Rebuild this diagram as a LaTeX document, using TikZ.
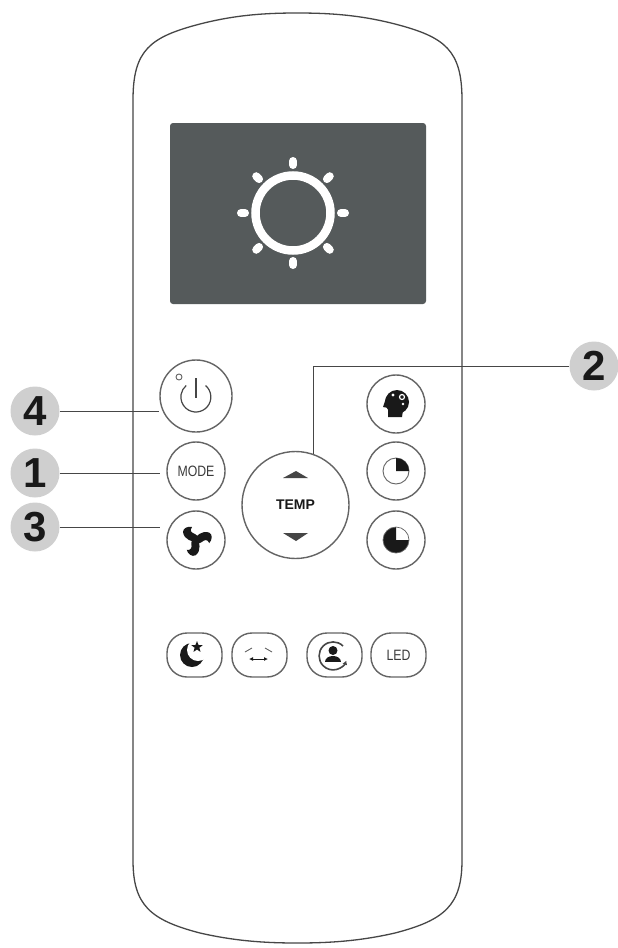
\documentclass[tikz,border=0pt]{standalone}
\usepackage{fontspec}
\usepackage{tikz}
\usetikzlibrary{shapes.geometric,arrows.meta}
\setmainfont{Liberation Sans}
\newfontfamily\narrowfont[FakeStretch=0.82]{Liberation Sans}
\definecolor{bodyline}{RGB}{70, 70, 70}
\definecolor{ringline}{RGB}{100, 100, 100}
\definecolor{screengray}{RGB}{85, 90, 91}
\definecolor{numgray}{RGB}{207, 207, 207}
\definecolor{icondark}{RGB}{25, 25, 25}
\tikzset{
    roundbtn/.style={circle, draw=ringline, line width=1.4pt, inner sep=0pt, fill=white},
    pillbtn/.style={rectangle, draw=ringline, line width=1.4pt, rounded corners=20pt, minimum width=55pt, minimum height=44pt, inner sep=0pt},
    numdot/.style={circle, fill=numgray, minimum size=49pt, inner sep=0pt, text=icondark, font=\fontsize{42}{42}\selectfont\bfseries},
    leader/.style={draw=bodyline, line width=1pt},
    narrowlabel/.style={text=icondark!85, font=\fontsize{15}{15}\selectfont\narrowfont}
}

\begin{document}
\begin{tikzpicture}[x=1pt, y=-1pt]
    \useasboundingbox (0,0) rectangle (618,948);
    \fill[white] (0,0) rectangle (618,948);

    % Remote body
    \draw[bodyline, line width=1.3pt] (133,100) .. controls (133,50) and (150,37) .. (200,24)
        .. controls (235,15) and (265,13) .. (297,13)
        .. controls (330,13) and (360,15) .. (395,24)
        .. controls (445,37) and (462,50) .. (462,100)
        -- (462,860) .. controls (462,905) and (445,920) .. (395,933)
        .. controls (360,941) and (330,943) .. (297,943)
        .. controls (265,943) and (235,941) .. (200,933)
        .. controls (150,920) and (133,905) .. (133,860) -- cycle;

    % Screen with sun
    \fill[screengray, rounded corners=3pt] (170,123) rectangle (426,304);
    \draw[white, line width=8.5pt] (293,213) circle (37.5pt);
    \foreach \ang in {0,45,...,315}
        \draw[white, line width=8pt, line cap=round, rotate around={\ang:(293,213)}] (293,161) -- (293,165);

    % Round buttons
    \node[roundbtn, minimum size=72pt] (power) at (196,396) {};
    \node[roundbtn, minimum size=58pt, narrowlabel] (mode) at (196,471) {MODE};
    \node[roundbtn, minimum size=58pt] (fan) at (196,540) {};
    \node[roundbtn, minimum size=107pt, text=icondark, font=\fontsize{14}{14}\selectfont\bfseries] (temp) at (295.5,505) {TEMP};
    \node[roundbtn, minimum size=58pt] (brain) at (396,404) {};
    \node[roundbtn, minimum size=58pt] (quarter) at (396,471) {};
    \node[roundbtn, minimum size=58pt] (threeq) at (396,540) {};

    % Power icon
    \draw[bodyline, line width=1.2pt] (205.5,385.5) arc (50:-230:15pt);
    \draw[bodyline, line width=1.2pt] (196,378) -- (196,398);
    \draw[ringline, line width=0.9pt] (179,377) circle (3pt);

    % Fan icon
    \foreach \ang in {0,120,240}
        \fill[icondark, shift={(196,540)}, rotate=\ang] (1,2) .. controls (-3,2) and (-12,0) .. (-13,-8)
            .. controls (-13,-12) and (-8,-14) .. (-4,-13) .. controls (-7,-9) and (-4,-7) .. (-1,-6) .. controls (3,-4) and (4,0) .. (1,2) -- cycle;

    % Temp arrows
    \fill[bodyline] (296,471) -- (308,478) -- (283,478) -- cycle;
    \fill[bodyline] (296,541) -- (308,533) -- (283,533) -- cycle;

    % Brain icon
    \fill[icondark] (397,402) circle (12pt);
    \fill[icondark] (388,408) -- (388,417) -- (402,417) -- (403,410) -- cycle;
    \fill[icondark] (386,398) -- (383,407) -- (389,408) -- cycle;
    \draw[white, line width=1.2pt] (402,397) circle (2.5pt);
    \fill[white] (393,395) circle (1.6pt);
    \fill[white] (403,404) circle (1.4pt);

    % Timer icons
    \draw[ringline, line width=0.9pt] (396,471) circle (13pt);
    \fill[icondark] (396,471) -- (396,458) arc (90:0:13pt) -- cycle;
    \fill[icondark] (396,540) -- (409,540) arc (0:-270:13pt) -- cycle;
    \draw[ringline, line width=0.7pt] (396,540) circle (13pt);

    % Pill buttons
    \node[pillbtn] (sleep) at (194.5,655) {};
    \node[pillbtn] (swing) at (259.5,655) {};
    \node[pillbtn] (follow) at (334.5,655) {};
    \node[pillbtn, narrowlabel] (led) at (398.5,655) {LED};

    % Sleep icon
    \fill[icondark] (192,655) circle (12pt);
    \fill[white] (198,650) circle (11pt);
    \node[star, star points=5, star point ratio=2.4, fill=icondark, inner sep=0pt, minimum size=12pt] (sleepstar) at (197,647) {};

    % Swing icon
    \draw[ringline, line width=0.9pt] (245,652) -- (252,648);
    \draw[ringline, line width=0.9pt] (265,648) -- (272,652);
    \draw[{Latex[length=4pt,width=4pt]}-{Latex[length=4pt,width=4pt]}, icondark, line width=0.8pt] (249,659) -- (268,659);

    % Follow icon
    \draw[bodyline, line width=1.6pt, -{Latex[length=4pt,width=5pt]}] (343,646) arc (45:340:14pt);
    \fill[icondark] (333,650.5) circle (4.5pt);
    \fill[icondark] (325,662) .. controls (325,654) and (341,654) .. (341,662) -- cycle;

    % Number callouts
    \node[numdot] (num4) at (35,411) {4};
    \node[numdot] (num1) at (35,473) {1};
    \node[numdot] (num3) at (35,527) {3};
    \node[numdot] (num2) at (594,366) {2};
    \coordinate (end1) at (160,473);
    \coordinate (end3) at (160,527);

    \draw[leader] (num4) -- (num4 -| power.west);
    \draw[leader] (num1) -- (end1);
    \draw[leader] (num3) -- (end3);
    \draw[leader] (num2) -| (temp.71);
\end{tikzpicture}
\end{document}
